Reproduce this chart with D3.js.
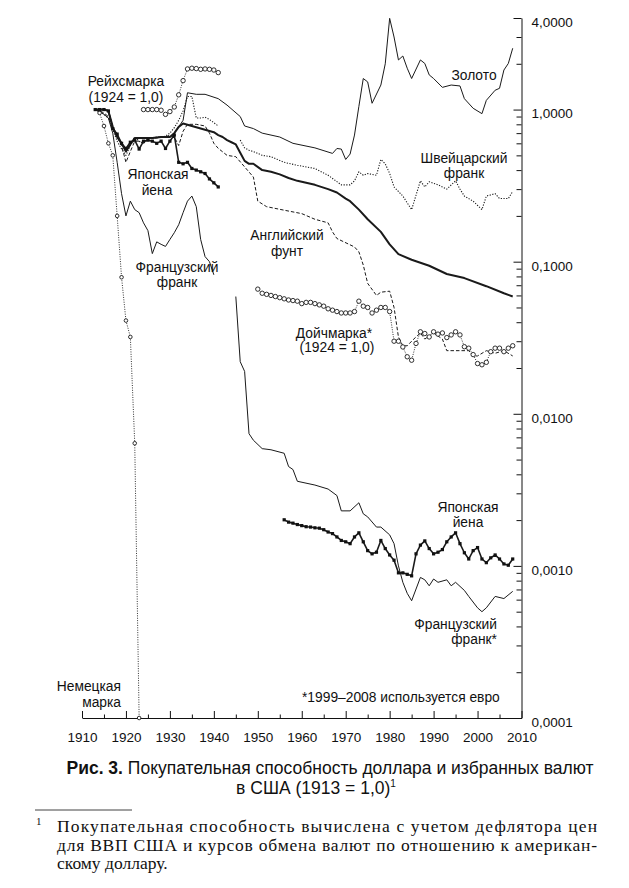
<!DOCTYPE html>
<html>
<head>
<meta charset="utf-8">
<title>Покупательная способность доллара</title>
<script src="https://cdn.jsdelivr.net/npm/d3@7"></script>
<style>
body { margin: 0; background: #fff; }
svg text { font-family: "Liberation Sans", Arial, sans-serif; fill: #111; }
.lbl { font-size: 13.8px; }
.axis path, .axis line { stroke: #111; stroke-width: 1px; }
.axis text { font-size: 13.5px; font-family: "Liberation Sans", Arial, sans-serif; fill: #111; }
.series { fill: none; stroke: #1a1a1a; stroke-linejoin: round; }
.dollar { stroke-width: 2px; }
.gold { stroke-width: 1px; }
.swiss { stroke-width: 1.1px; stroke-dasharray: 1.2 1.5; }
.pound { stroke-width: 1px; stroke-dasharray: 3.5 2; }
.mark { stroke-width: 0.9px; stroke-dasharray: 1 1.4; }
.yen { stroke-width: 1.6px; }
.franc { stroke-width: 1px; }
.dot { fill: #fff; stroke: #1a1a1a; stroke-width: 0.9px; }
.sq { fill: #111; }
.foot { font-family: "Liberation Serif", "DejaVu Serif", serif; font-size: 17.5px; }
</style>
</head>
<body>
<script>

// Data: [year, purchasing power], 1913 = 1.0 (null = break in the series)

var dollar = [
    [1913,1.0],[1914,1.0],[1915,1.0],[1916,0.98],[1917,0.77],[1918,0.66],[1919,0.6],[1920,0.53],
    [1921,0.59],[1922,0.65],[1924,0.65],[1926,0.65],[1928,0.66],[1930,0.66],[1931,0.70],[1932,0.77],
    [1933,0.81],[1935,0.78],[1937,0.75],[1940,0.71],[1941,0.68],[1942,0.66],[1943,0.63],[1944,0.61],
    [1945,0.59],[1946,0.52],[1947,0.46],[1948,0.44],[1949,0.44],[1951,0.40],[1953,0.39],[1955,0.375],
    [1957,0.355],[1959,0.34],[1961,0.33],[1963,0.32],[1966,0.30],[1968,0.285],[1970,0.26],[1971,0.25],
    [1973,0.22],[1975,0.19],[1978,0.157],[1980,0.13],[1982,0.112],[1985,0.103],[1989,0.094],
    [1993,0.083],[1997,0.078],[2002,0.069],[2006,0.062],[2008,0.059]
];

var gold = [
    [1913,1.0],[1914,1.0],[1915,1.0],[1916,0.98],[1917,0.77],[1918,0.66],[1919,0.6],[1920,0.53],
    [1921,0.59],[1922,0.65],[1924,0.65],[1926,0.65],[1928,0.66],[1930,0.66],[1931,0.70],[1932,0.77],
    [1933,0.85],[1934,1.29],[1936,1.26],[1938,1.26],[1941,1.18],[1943,1.07],[1946,0.90],[1947,0.78],
    [1949,0.75],[1951,0.70],[1955,0.66],[1958,0.60],[1963,0.56],[1967,0.515],[1968,0.555],[1969,0.55],
    [1970,0.47],[1971,0.51],[1972,0.68],[1973,1.05],[1974,1.60],[1975,1.52],[1976,1.10],[1978,1.45],
    [1979,2.0],[1980,3.98],[1981,3.0],[1982,2.12],[1983,2.25],[1984,1.87],[1985,1.6],[1987,2.12],
    [1988,2.01],[1989,1.69],[1990,1.6],[1992,1.4],[1994,1.45],[1996,1.43],[1997,1.18],[1999,1.02],
    [2001,0.94],[2002,1.15],[2004,1.34],[2005,1.38],[2006,1.82],[2007,2.01],[2008,2.53]
];

var swissFranc = [
    [1913,1.0],[1914,0.98],[1915,0.93],[1916,0.88],[1917,0.74],[1918,0.62],[1919,0.55],[1920,0.50],
    [1921,0.58],[1922,0.66],[1923,0.62],[1924,0.60],[1925,0.64],[1926,0.65],[1927,0.66],[1928,0.66],
    [1929,0.67],[1930,0.70],[1931,0.76],[1932,0.85],[1933,0.98],[1934,1.22],[1935,1.22],[1936,0.88],
    [1937,0.88],[1938,0.89],[1939,0.86],[1940,0.82],[1941,0.78],[1942,null],
    [1946,0.63],[1947,0.56],[1948,0.54],[1949,0.53],[1951,0.50],[1953,0.49],[1956,0.45],[1959,0.43],
    [1963,0.41],[1966,0.37],[1969,0.32],[1971,0.32],[1972,0.34],[1973,0.39],[1974,0.37],[1975,0.38],
    [1977,0.37],[1978,0.47],[1979,0.44],[1980,0.38],[1981,0.31],[1983,0.27],[1985,0.22],[1987,0.34],
    [1988,0.31],[1989,0.335],[1991,0.32],[1992,0.31],[1993,0.30],[1995,0.34],[1996,0.30],[1997,0.27],
    [1999,0.25],[2001,0.22],[2002,0.27],[2004,0.28],[2005,0.26],[2007,0.26],[2008,0.29]
];

var pound = [
    [1913,1.0],[1914,0.98],[1915,0.95],[1916,0.9],[1917,0.76],[1918,0.66],[1919,0.58],[1920,0.45],
    [1921,0.53],[1922,0.62],[1923,0.62],[1924,0.60],[1925,0.64],[1926,0.65],[1927,0.65],[1928,0.66],
    [1929,0.66],[1930,0.68],[1931,0.66],[1932,0.58],[1933,0.72],[1934,0.80],[1936,0.80],[1938,0.78],
    [1939,0.70],[1940,0.60],[1941,0.556],[1943,0.50],[1945,0.49],[1947,0.42],[1949,0.36],[1950,0.25],
    [1952,0.23],[1956,0.218],[1960,0.207],[1963,0.19],[1966,0.18],[1967,0.157],[1968,0.142],
    [1972,0.125],[1973,0.116],[1974,0.095],[1975,0.072],[1977,0.060],[1978,0.063],[1980,0.064],
    [1981,0.050],[1982,0.032],[1983,0.028],[1984,0.028],[1985,0.030],[1986,0.032],[1987,0.034],
    [1988,0.031],[1990,0.034],[1992,0.031],[1993,0.026],[1995,0.026],[1998,0.026],[1999,0.024],
    [2000,0.024],[2002,0.026],[2004,0.025],[2006,0.026],[2008,0.024]
];

var reichsmark = [
    [1924,1.0],[1925,1.0],[1926,1.0],[1927,1.0],[1928,0.99],[1929,0.93],[1930,0.97],[1931,1.04],
    [1932,1.25],[1933,1.55],[1934,1.85],[1935,1.87],[1936,1.86],[1937,1.84],[1938,1.85],[1939,1.84],
    [1940,1.82],[1941,1.75]
];

var deutschmark = [
    [1950,0.066],[1951,0.062],[1952,0.061],[1953,0.060],[1954,0.059],[1955,0.058],[1956,0.057],
    [1957,0.056],[1958,0.0555],[1959,0.055],[1960,0.053],[1961,0.054],[1962,0.054],[1963,0.053],
    [1964,0.052],[1965,0.051],[1966,0.049],[1967,0.048],[1968,0.047],[1969,0.046],[1970,0.046],
    [1971,0.046],[1972,0.047],[1973,0.055],[1974,0.051],[1975,0.050],[1976,0.046],[1977,0.048],
    [1978,0.050],[1979,0.050],[1980,0.047],[1981,0.030],[1982,0.030],[1983,0.0275],[1984,0.0237],
    [1985,0.0225],[1986,0.029],[1987,0.0346],[1988,0.0337],[1989,0.032],[1990,0.0346],[1991,0.0334],
    [1992,0.034],[1993,0.0317],[1994,0.033],[1995,0.0346],[1996,0.033],[1997,0.0276],[1998,0.027],
    [1999,0.0245],[2000,0.0214],[2001,0.021],[2002,0.0218],[2003,0.0256],[2004,0.027],[2005,0.027],
    [2006,0.0256],[2007,0.027],[2008,0.028]
];

var germanMark = [
    [1913,1.0],[1914,0.95],[1915,0.78],[1916,0.6],[1917,0.5],[1918,0.2],[1919,0.079],[1920,0.041],
    [1921,0.032],[1922,0.0064],[1923,0.0001]
];

var yen = [
    [1913,1.0],[1914,1.0],[1915,1.0],[1916,0.98],[1917,0.75],[1918,0.69],[1919,0.6],[1920,0.555],
    [1921,0.61],[1922,0.63],[1923,0.55],[1924,0.62],[1925,0.63],[1926,0.62],[1927,0.60],[1928,0.62],
    [1929,0.555],[1930,0.62],[1931,0.68],[1932,0.45],[1933,0.44],[1934,0.45],[1935,0.41],[1936,0.40],
    [1937,0.39],[1938,0.38],[1939,0.35],[1940,0.33],[1941,0.31],[1942,null],
    [1956,0.00201],[1957,0.00194],[1958,0.00191],[1959,0.00187],[1960,0.00184],[1961,0.00181],
    [1962,0.00180],[1963,0.00178],[1964,0.00177],[1965,0.00173],[1966,0.00167],[1967,0.00163],
    [1968,0.00155],[1969,0.00147],[1970,0.00144],[1971,0.00140],[1972,0.00155],[1973,0.00165],
    [1974,0.00144],[1975,0.00126],[1976,0.00120],[1977,0.00123],[1978,0.00147],[1979,0.00130],
    [1980,0.00118],[1981,0.00109],[1982,0.00090],[1983,0.00090],[1984,0.00088],[1985,0.00086],
    [1986,0.00120],[1987,0.00137],[1988,0.00146],[1989,0.00130],[1990,0.00120],[1991,0.00123],
    [1992,0.00128],[1993,0.00144],[1994,0.00155],[1995,0.00165],[1996,0.00140],[1997,0.00122],
    [1998,0.00111],[1999,0.00126],[2000,0.00132],[2001,0.00111],[2002,0.00105],[2003,0.00113],
    [2004,0.00118],[2005,0.00111],[2006,0.00103],[2007,0.00101],[2008,0.00111]
];

var frenchFranc = [
    [1913,1.0],[1914,0.97],[1915,0.93],[1916,0.88],[1917,0.7],[1918,0.45],[1919,0.28],[1920,0.20],
    [1921,0.25],[1922,0.22],[1923,0.21],[1924,0.18],[1925,0.16],[1926,0.113],[1927,0.135],[1928,0.13],
    [1929,0.126],[1930,0.14],[1931,0.155],[1932,0.175],[1933,0.21],[1934,0.25],[1935,0.27],[1936,0.23],
    [1937,0.14],[1938,0.108],[1939,0.10],[1940,0.082],[1941,null],
    [1945,0.059],[1946,0.022],[1947,0.019],[1948,0.0074],[1949,0.0067],[1951,0.0059],[1953,0.0058],
    [1956,0.0055],[1957,0.0045],[1958,0.0043],[1959,0.0036],[1963,0.0034],[1966,0.0032],[1968,0.0029],
    [1969,0.0023],[1971,0.0023],[1973,0.0026],[1974,0.0022],[1975,0.0021],[1977,0.0018],[1978,0.0018],
    [1980,0.0016],[1981,0.0014],[1982,0.0010],[1983,0.00078],[1984,0.00066],[1985,0.00059],
    [1987,0.00084],[1988,0.00081],[1989,0.00074],[1990,0.00082],[1991,0.00078],[1993,0.00081],
    [1994,0.00074],[1995,0.00078],[1997,0.00069],[1998,0.00063],[2000,0.00053],[2001,0.00050],
    [2002,0.00053],[2004,0.00063],[2006,0.00061],[2008,0.00068]
];

// Axis ticks
var xTicks = [1910,1920,1930,1940,1950,1960,1970,1980,1990,2000,2010];
var xMinorTicks = [1915,1925,1935,1945,1955,1965,1975,1985,1995,2005];
var yTicks = [4, 1, 0.1, 0.01, 0.001, 0.0001];
var yTickLabels = ["4,0000", "1,0000", "0,1000", "0,0100", "0,0010", "0,0001"];
var yMinorTicks = [];
[0.0001, 0.001, 0.01, 0.1].forEach(function(dec) {
    for (var k = 2; k <= 9; k++) yMinorTicks.push(dec * k);
});
yMinorTicks.push(2, 3);

// Dimensions
var width = 629, height = 888;

var x = d3.scaleLinear().domain([1910, 2010]).range([82, 521.5]);
var y = d3.scaleLog().domain([0.0001, 4]).range([718, 18]);

var svg = d3.select("body").append("svg")
    .attr("width", width)
    .attr("height", height);

// Axes
svg.append("g")
    .attr("class", "axis axis--x")
    .attr("transform", "translate(0,718)")
    .call(d3.axisBottom(x).tickValues(xTicks).tickSizeInner(-7).tickSizeOuter(0).tickPadding(14)
        .tickFormat(d3.format("d")));

svg.append("g")
    .attr("class", "axis")
    .attr("transform", "translate(0,718)")
    .call(d3.axisBottom(x).tickValues(xMinorTicks).tickSizeInner(-3.5).tickSizeOuter(0).tickFormat(""))
    .select(".domain").remove();

svg.append("g")
    .attr("class", "axis axis--y")
    .attr("transform", "translate(521.5,0)")
    .call(d3.axisLeft(y).tickValues(yTicks).tickSizeInner(8).tickSizeOuter(0).tickFormat(""));

svg.append("g")
    .attr("class", "axis")
    .attr("transform", "translate(521.5,0)")
    .call(d3.axisLeft(y).tickValues(yMinorTicks).tickSizeInner(5).tickSizeOuter(0).tickFormat(""))
    .select(".domain").remove();

var yLabels = svg.append("g")
    .attr("class", "axis")
    .attr("transform", "translate(521.5,4)")
    .call(d3.axisRight(y).tickValues(yTicks).tickSize(0).tickPadding(10)
        .tickFormat(function(d, i) { return yTickLabels[i]; }));
yLabels.select(".domain").remove();

// Lines
var line = d3.line()
    .defined(function(d) { return d[1] != null; })
    .x(function(d) { return x(d[0]); })
    .y(function(d) { return y(d[1]); });

function drawSeries(data, cls) {
    svg.append("path").datum(data).attr("class", "series " + cls).attr("d", line);
}

drawSeries(frenchFranc, "franc");
drawSeries(pound, "pound");
drawSeries(swissFranc, "swiss");
drawSeries(gold, "gold");
drawSeries(dollar, "dollar");
drawSeries(germanMark, "mark");
drawSeries(reichsmark, "mark");
drawSeries(deutschmark, "mark");
drawSeries(yen, "yen");

function drawCircles(data, r) {
    svg.append("g").selectAll("circle")
        .data(data.filter(function(d) { return d[1] != null; }))
        .enter().append("circle")
        .attr("class", "dot")
        .attr("cx", function(d) { return x(d[0]); })
        .attr("cy", function(d) { return y(d[1]); })
        .attr("r", r);
}

drawCircles(germanMark.slice(1), 1.8);
drawCircles(reichsmark, 2.2);
drawCircles(deutschmark, 2.2);

svg.append("g").selectAll("rect")
    .data(yen.filter(function(d) { return d[1] != null; }))
    .enter().append("rect")
    .attr("class", "sq")
    .attr("x", function(d) { return x(d[0]) - 1.6; })
    .attr("y", function(d) { return y(d[1]) - 1.6; })
    .attr("width", 3.2)
    .attr("height", 3.2);

// Labels
var labels = [
    { t: "Рейхсмарка", x: 126, y: 81 },
    { t: "(1924 = 1,0)", x: 126, y: 97 },
    { t: "Японская", x: 158, y: 174 },
    { t: "йена", x: 157, y: 190 },
    { t: "Французский", x: 177, y: 267 },
    { t: "франк", x: 177, y: 282 },
    { t: "Золото", x: 474, y: 75 },
    { t: "Швейцарский", x: 464, y: 158 },
    { t: "франк", x: 464, y: 173 },
    { t: "Английский", x: 287, y: 235 },
    { t: "фунт", x: 287, y: 251 },
    { t: "Дойчмарка*", x: 334, y: 333 },
    { t: "(1924 = 1,0)", x: 337, y: 347 },
    { t: "Японская", x: 468, y: 507 },
    { t: "йена", x: 468, y: 522 },
    { t: "Французский", x: 497, y: 624, a: "end" },
    { t: "франк*", x: 497, y: 639, a: "end" },
    { t: "Немецкая", x: 121, y: 686, a: "end" },
    { t: "марка", x: 121, y: 702, a: "end" },
    { t: "*1999\u20132008 используется евро", x: 302, y: 697, a: "start" }
];

svg.append("g").selectAll("text")
    .data(labels)
    .enter().append("text")
    .attr("class", "lbl")
    .attr("x", function(d) { return d.x; })
    .attr("y", function(d) { return d.y; })
    .attr("dy", "0.35em")
    .attr("text-anchor", function(d) { return d.a || "middle"; })
    .text(function(d) { return d.t; });

// Caption
var cap1 = svg.append("text")
    .attr("x", 330).attr("y", 774)
    .attr("text-anchor", "middle")
    .style("font-size", "17.5px");
cap1.append("tspan").style("font-weight", "bold").text("Рис. 3.");
cap1.append("tspan").text(" Покупательная способность доллара и избранных валют");

var cap2 = svg.append("text")
    .attr("x", 316).attr("y", 794)
    .attr("text-anchor", "middle")
    .style("font-size", "17.5px");
cap2.append("tspan").text("в США (1913 = 1,0)");
cap2.append("tspan").attr("dy", -7).style("font-size", "10px").text("1");

// Footnote
svg.append("line")
    .attr("x1", 35).attr("x2", 132).attr("y1", 810).attr("y2", 810)
    .attr("stroke", "#111").attr("stroke-width", 0.8);

svg.append("text").attr("class", "foot")
    .attr("x", 36).attr("y", 825).style("font-size", "11px").text("1");

var footLines = [
    "Покупательная способность вычислена с учетом дефлятора цен",
    "для ВВП США и курсов обмена валют по отношению к американ-",
    "скому доллару."
];

footLines.forEach(function(t, i) {
    var el = svg.append("text").attr("class", "foot")
        .attr("x", 57).attr("y", 832 + i * 18.5)
        .text(t);
    if (i < 2) el.attr("textLength", 540).attr("lengthAdjust", "spacing");
});

</script>
</body>
</html>
